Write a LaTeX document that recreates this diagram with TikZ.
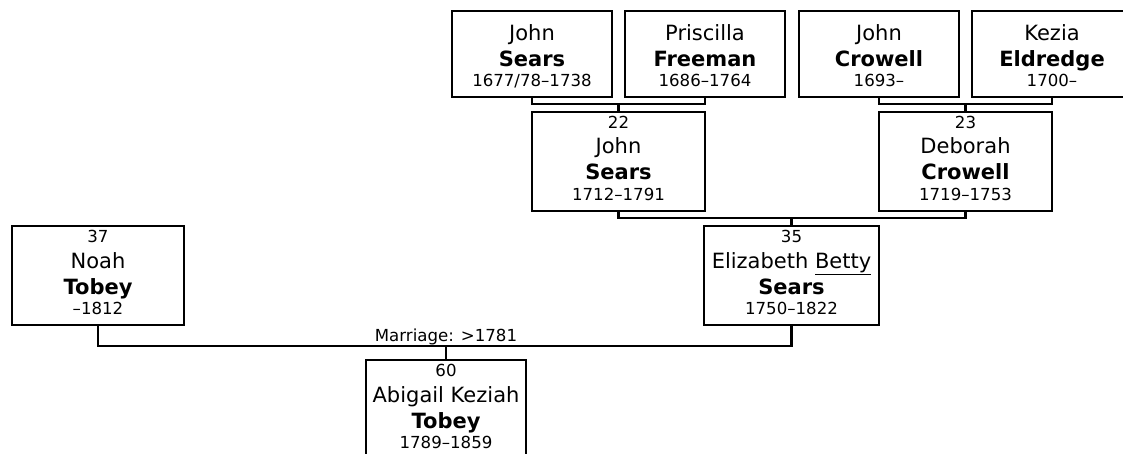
\documentclass[tikz,border=0pt]{standalone}
\usepackage{fontspec}
\setmainfont{DejaVu Sans}
\tikzset{
  box/.style={draw, line width=2.2pt, inner sep=0pt, outer sep=0pt},
  small/.style={font=\fontsize{16.6}{19}\selectfont, inner sep=0pt, anchor=base},
  big/.style={font=\fontsize{21}{24}\selectfont, inner sep=0pt, anchor=base},
  bigb/.style={font=\fontsize{21}{24}\selectfont\bfseries, inner sep=0pt, anchor=base},
  conn/.style={line width=2.2pt},
}
\newcommand\toprow[5]{%
  \node[box, minimum width=160pt, minimum height=86pt] (#1) at (#2,54) {};
  \node[big] (#1-f) at ([yshift=-30pt]#1.north) {#3};
  \node[bigb] (#1-l) at ([yshift=-55.5pt]#1.north) {#4};
  \node[small] (#1-d) at ([yshift=-75.5pt]#1.north) {#5};
}
\newcommand\numbered[8]{%
  \node[box, minimum width=#4pt, minimum height=99pt] (#1) at (#2,#3) {};
  \node[small] (#1-n) at ([yshift=-16.5pt]#1.north) {#5};
  \node[big] (#1-f) at ([yshift=-42pt]#1.north) {#6};
  \node[bigb] (#1-l) at ([yshift=-68pt]#1.north) {#7};
  \node[small] (#1-d) at ([yshift=-88.5pt]#1.north) {#8};
}
\begin{document}
\begin{tikzpicture}[x=1pt, y=-1pt]
  \path[use as bounding box] (0,0) rectangle (1123,454);
  \fill[white] (0,0) rectangle (1123,454);
  \clip (0,0) rectangle (1123,454);

  \toprow{p1}{532}{John}{Sears}{1677/78--1738}
  \toprow{p2}{705}{Priscilla}{Freeman}{1686--1764}
  \toprow{p3}{879}{John}{Crowell}{1693--}
  \toprow{p4}{1052}{Kezia}{Eldredge}{1700--}

  \numbered{p22}{618.5}{161.5}{173}{22}{John}{Sears}{1712--1791}
  \numbered{p23}{965.5}{161.5}{173}{23}{Deborah}{Crowell}{1719--1753}
  \numbered{p35}{791.5}{275.5}{175}{35}{Elizabeth \underline{Betty}}{Sears}{1750--1822}
  \numbered{p37}{98}{275.5}{172}{37}{Noah}{Tobey}{--1812}
  \numbered{p60}{446}{409.5}{160}{60}{Abigail Keziah}{Tobey}{1789--1859}

  % families
  \draw[conn] (p1.south) -- ++(0,7) coordinate (h1) -| (p2.south);
  \draw[conn] (p22.north) -- (p22.north |- h1);
  \draw[conn] (p3.south) -- ++(0,7) coordinate (h2) -| (p4.south);
  \draw[conn] (p23.north) -- (p23.north |- h2);
  \draw[conn] (p22.south) -- ++(0,7) coordinate (h3) -| (p23.south);
  \draw[conn] (p35.north) -- (p35.north |- h3);
  \draw[conn] (p37.south) -- ++(0,21) coordinate (h4) -| (p35.south);
  \draw[conn] (p60.north) -- (p60.north |- h4);
  \node[small] (mar) at (446,341) {Marriage: >1781};
\end{tikzpicture}
\end{document}
